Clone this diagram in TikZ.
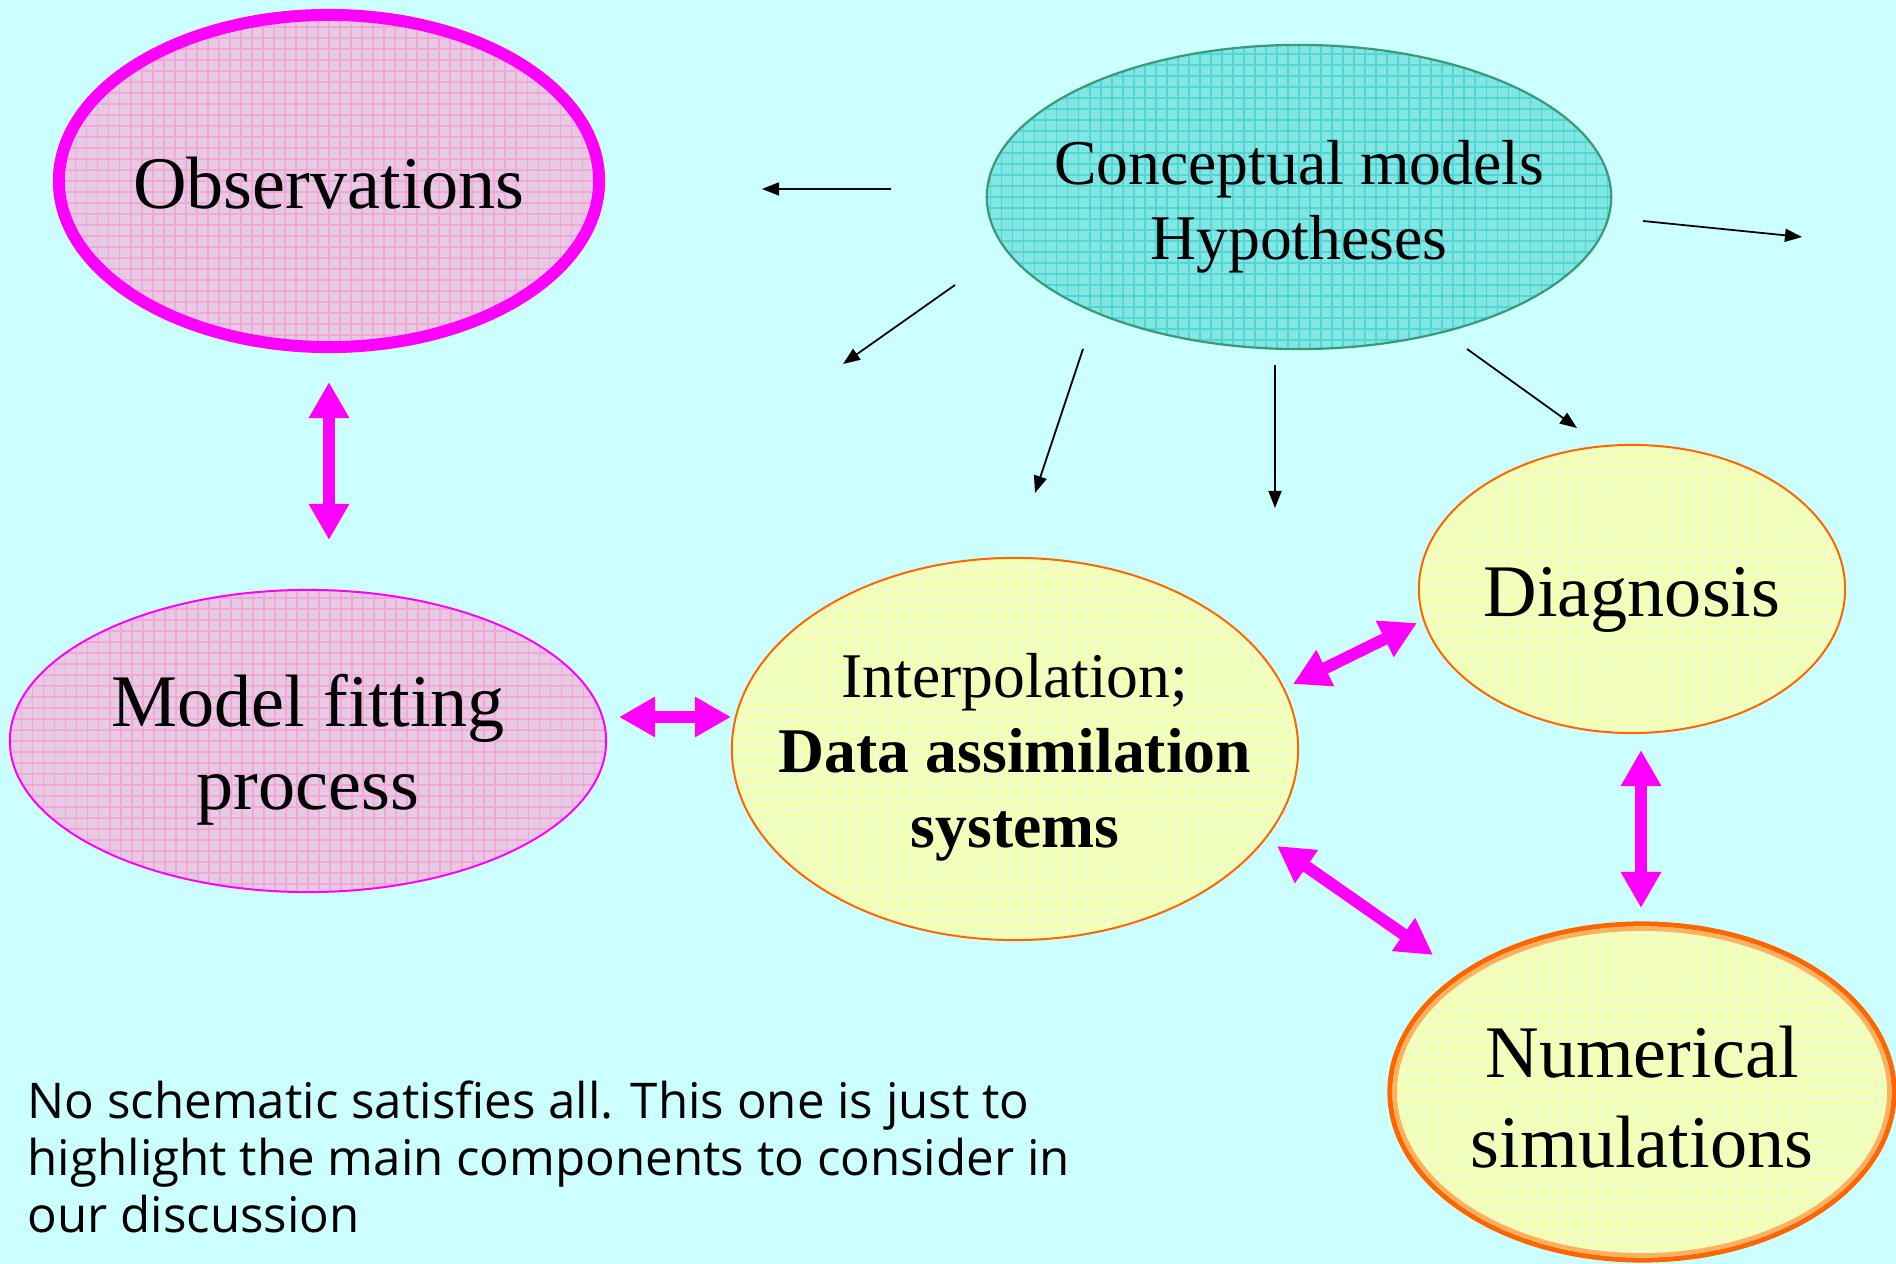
\documentclass[tikz,border=0pt]{standalone}
\usepackage{fontspec}
\setmainfont{Liberation Serif}
\newfontfamily\notefont{Open Sans}
\usetikzlibrary{arrows.meta,shapes.geometric}
\definecolor{bgcol}{HTML}{CCFFFF}
\definecolor{pinkfill}{HTML}{E6CAE4}
\definecolor{pinkgrid}{HTML}{F2A8D6}
\definecolor{tealfill}{HTML}{82E6E4}
\definecolor{tealgrid}{HTML}{52D6D2}
\definecolor{tealedge}{HTML}{3A9A78}
\definecolor{yelfill}{HTML}{EEFFC6}
\definecolor{yelgrid}{HTML}{FAFFA8}
\definecolor{orangeedge}{HTML}{FF6600}
\definecolor{orangelight}{HTML}{FFB060}
\definecolor{magentac}{HTML}{FF00FF}
\begin{document}
\begin{tikzpicture}[x=0.01cm,y=-0.01cm,
  ell/.style={ellipse, inner sep=0pt, outer sep=0pt},
  gridded/.style n args={2}{fill=#1, path picture={\draw[#2,line width=0.35pt] (path picture bounding box.south west) grid[step=0.11cm] (path picture bounding box.north east);}},
  thinarrow/.style={-{Triangle[length=0.17cm,width=0.13cm]}, line width=0.5pt, black},
  bigarrow/.style={{Triangle[length=0.36cm,width=0.38cm]}-{Triangle[length=0.36cm,width=0.38cm]}, line width=0.12cm, magentac},
  bigtext/.style={font=\fontsize{21.1}{25.6}\selectfont, align=center, inner sep=0pt},
  midtext/.style={font=\fontsize{18.1}{21.3}\selectfont, align=center, inner sep=0pt}]
\fill[bgcol] (0,0) rectangle (1896,1264);
\useasboundingbox (0,0) rectangle (1896,1264);
\clip (0,0) rectangle (1896,1264);

% ellipses
\node[ell, gridded={pinkfill}{pinkgrid}, draw=magentac, line width=0.12cm,
  minimum width=5.40cm, minimum height=3.32cm] (obs) at (329,181) {};
\node[ell, gridded={tealfill}{tealgrid}, draw=tealedge, line width=0.022cm,
  minimum width=6.24cm, minimum height=3.04cm] (con) at (1299,197) {};
\node[ell, gridded={pinkfill}{pinkgrid}, draw=magentac, line width=0.02cm,
  minimum width=5.96cm, minimum height=3.02cm] (mf) at (308,741) {};
\node[ell, gridded={yelfill}{yelgrid}, draw=orangeedge, line width=0.02cm,
  minimum width=5.66cm, minimum height=3.82cm] (das) at (1015,749) {};
\node[ell, gridded={yelfill}{yelgrid}, draw=orangeedge, line width=0.02cm,
  minimum width=4.26cm, minimum height=2.88cm] (dia) at (1632,589) {};
\node[ell, gridded={yelfill}{yelgrid}, draw=orangeedge, line width=0.05cm,
  minimum width=5.04cm, minimum height=3.36cm] (num) at (1642,1092) {};
\draw[orangelight, line width=0.045cm] (num.center) ellipse [x radius=247.3, y radius=163.3];

% texts
\node[bigtext, anchor=base] (obsT) at (329,209) {Observations};
\node[midtext] (conT) at (1299,207) {Conceptual models\\Hypotheses};
\node[bigtext, font=\fontsize{21.1}{23.6}\selectfont] (mfT) at (308,750) {Model fitting\\process};
\node[midtext] (dasT) at (1015,757) {Interpolation;\\\textbf{Data assimilation}\\\textbf{systems}};
\node[bigtext, anchor=base] (diaT) at (1632,617) {Diagnosis};
\node[bigtext] (numT) at (1642,1097) {Numerical\\simulations};

% black arrows (free ends)
\coordinate (a1s) at (891,189);  \coordinate (a1e) at (762,189);
\coordinate (a2s) at (1643,221); \coordinate (a2e) at (1802,237);
\coordinate (a3s) at (955,285);  \coordinate (a3e) at (843,364);
\coordinate (a4s) at (1083,349); \coordinate (a4e) at (1035,493);
\coordinate (a5s) at (1275,365); \coordinate (a5e) at (1275,508);
\coordinate (a6s) at (1467,349); \coordinate (a6e) at (1577,428);
\draw[thinarrow] (a1s) -- (a1e);
\draw[thinarrow] (a2s) -- (a2e);
\draw[thinarrow] (a3s) -- (a3e);
\draw[thinarrow] (a4s) -- (a4e);
\draw[thinarrow] (a5s) -- (a5e);
\draw[thinarrow] (a6s) -- (a6e);

% magenta double arrows
\coordinate (m1a) at (329,382);  \coordinate (m1b) at (329,540);
\coordinate (m2a) at (619,717);  \coordinate (m2b) at (731,717);
\coordinate (m3a) at (1293,684); \coordinate (m3b) at (1417,623);
\coordinate (m4a) at (1277,846); \coordinate (m4b) at (1433,955);
\coordinate (m5a) at (1641,750); \coordinate (m5b) at (1641,908);
\draw[bigarrow] (m1a) -- (m1b);
\draw[bigarrow] (m2a) -- (m2b);
\draw[bigarrow] (m3a) -- (m3b);
\draw[bigarrow] (m4a) -- (m4b);
\draw[bigarrow] (m5a) -- (m5b);

% note
\node[anchor=north west, align=left, inner sep=0pt,
  font=\notefont\fontsize{14}{16.2}\selectfont] (note) at (27,1080)
  {No schematic satisfies all. This one is just to\\highlight the main components to consider in\\our discussion};
\end{tikzpicture}
\end{document}
